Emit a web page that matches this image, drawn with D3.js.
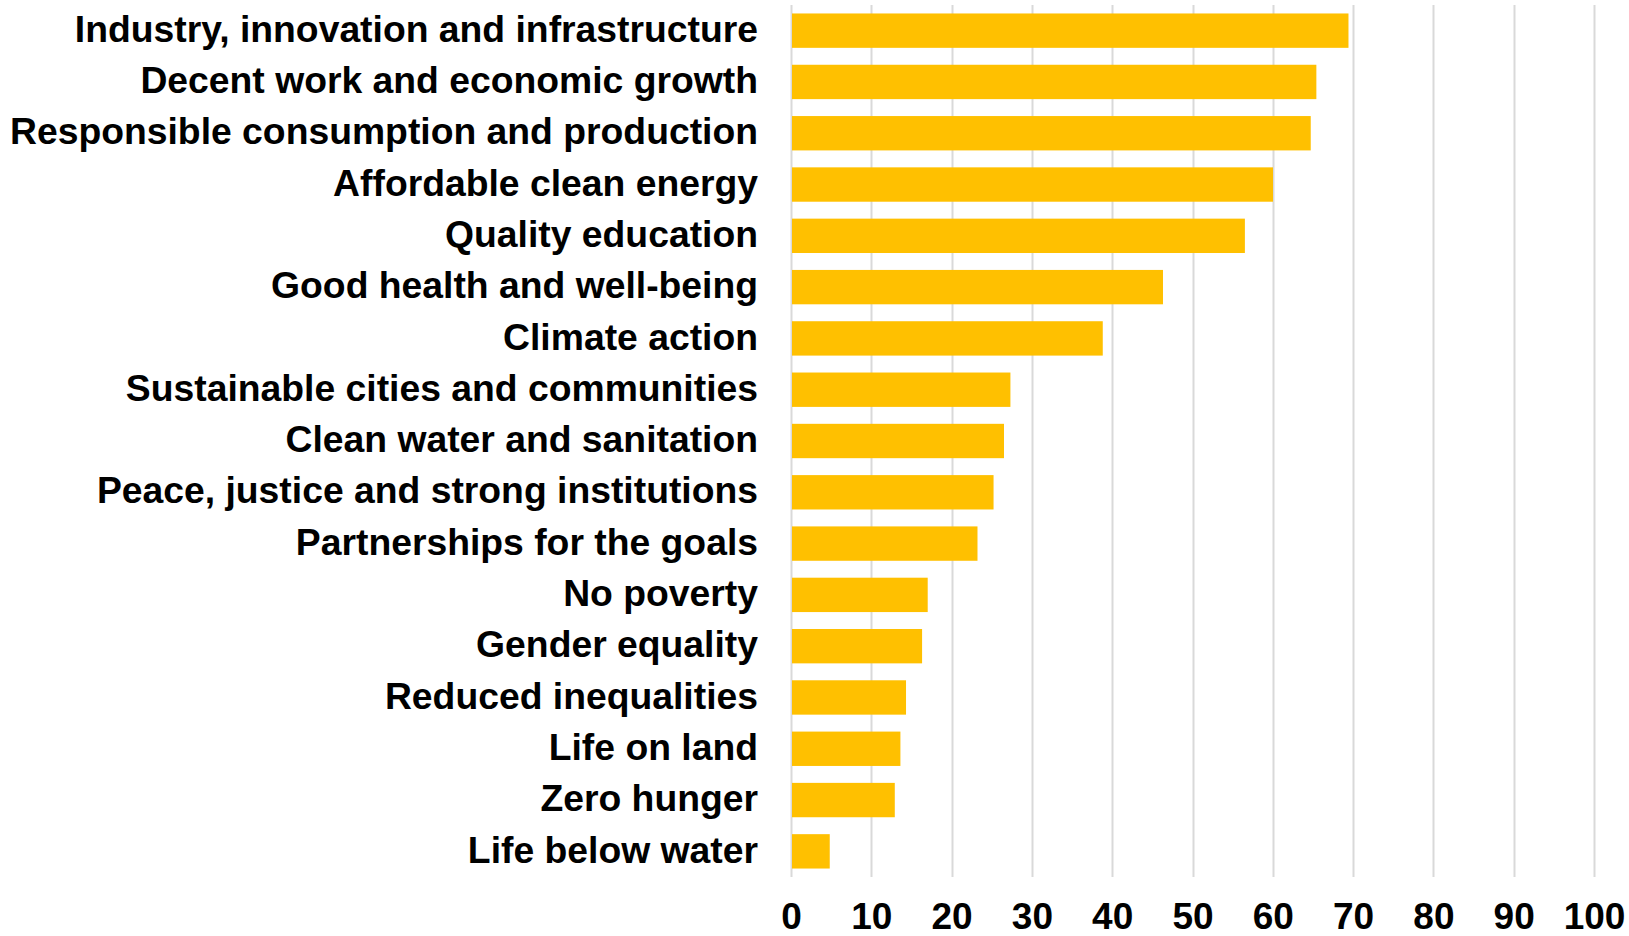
<!DOCTYPE html>
<html lang="en">
<head>
    <meta charset="UTF-8">
    <title>SDG bars</title>
    <style>
        body, html {
            margin: 0;
            padding: 0;
            background: #fff;
            font-family: "Liberation Sans", Arial, sans-serif;
        }
        #chart svg { display: block; }
        .cat text, .xlab text {
            font-weight: bold;
            fill: #000;
        }
        .cat text { font-size: 37.3px; }
        .xlab text { font-size: 37px; }
    </style>
    <script src="https://d3js.org/d3.v7.min.js"></script>
</head>
<body>
    <div id="chart"></div>
    <script>
        const categories = [
            "Industry, innovation and infrastructure",
            "Decent work and economic growth",
            "Responsible consumption and production",
            "Affordable clean energy",
            "Quality education",
            "Good health and well-being",
            "Climate action",
            "Sustainable cities and communities",
            "Clean water and sanitation",
            "Peace, justice and strong institutions",
            "Partnerships for the goals",
            "No poverty",
            "Gender equality",
            "Reduced inequalities",
            "Life on land",
            "Zero hunger",
            "Life below water"
        ];
        const values = [69.3, 65.3, 64.6, 59.9, 56.4, 46.2, 38.7, 27.2, 26.4, 25.1, 23.1, 16.9, 16.2, 14.2, 13.5, 12.8, 4.7];
        const xTicks = [0, 10, 20, 30, 40, 50, 60, 70, 80, 90, 100];

        const W = 1629, H = 936;
        const margin = { top: 5, right: 35, bottom: 59, left: 791 },
            width = W - margin.left - margin.right,
            height = H - margin.top - margin.bottom;

        const svg = d3.select("#chart").append("svg")
            .attr("width", W)
            .attr("height", H);

        const g = svg.append("g")
            .attr("transform", `translate(${margin.left},${margin.top})`);

        const x = d3.scaleLinear().domain([0, 100]).range([0, width]);
        const y = d3.scaleBand().domain(categories).range([0, height])
            .paddingInner(0.33).paddingOuter(0.165);

        // gridlines
        g.append("g")
            .selectAll("line")
            .data(xTicks)
            .enter()
            .append("line")
            .attr("x1", d => Math.round(x(d)) + 0.5)
            .attr("x2", d => Math.round(x(d)) + 0.5)
            .attr("y1", 0)
            .attr("y2", height)
            .attr("stroke", "#d9d9d9")
            .attr("stroke-width", 2);

        g.selectAll("rect.bar")
            .data(values)
            .enter()
            .append("rect")
            .attr("class", "bar")
            .attr("x", x(0) + 1)
            .attr("y", (d, i) => y(categories[i]))
            .attr("width", d => x(d) - x(0))
            .attr("height", y.bandwidth())
            .attr("fill", "#ffc000");

        // category labels
        const yAxis = g.append("g")
            .attr("class", "cat")
            .call(d3.axisLeft(y).tickSize(0).tickPadding(33));
        yAxis.select(".domain").remove();
        yAxis.selectAll("text").attr("dy", "0.3em");

        // x tick labels
        const xAxis = g.append("g")
            .attr("class", "xlab")
            .attr("transform", `translate(0,${height})`)
            .call(d3.axisBottom(x).tickValues(xTicks).tickSize(0).tickPadding(0));
        xAxis.select(".domain").remove();
        xAxis.selectAll("text").attr("dy", null).attr("y", 52);
    </script>
</body>
</html>
